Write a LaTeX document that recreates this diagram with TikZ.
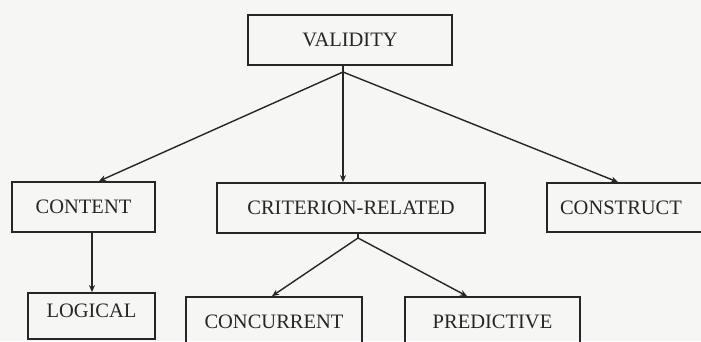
\documentclass[tikz,border=0pt]{standalone}
\usepackage{fontspec}
\setmainfont{Liberation Serif}
\usetikzlibrary{arrows.meta}
\definecolor{ink}{HTML}{262626}
\definecolor{paper}{HTML}{F6F6F4}
\tikzset{
  box/.style={draw=ink, line width=1.8pt, rectangle, inner sep=0pt, text=ink,
    font=\fontsize{20.5}{22}\selectfont},
  arr/.style={draw=ink, line width=1.4pt, -{Stealth[length=7pt,width=6pt]}}
}
\begin{document}
\begin{tikzpicture}[x=1pt,y=-1pt]
\clip (0,0) rectangle (701,341);
\fill[paper] (0,0) rectangle (701,341);
\node[box, minimum width=204, minimum height=50] (validity) at (350,40) {VALIDITY};
\node[box, minimum width=143, minimum height=50] (content) at (83.5,207) {CONTENT};
\node[box, minimum width=268, minimum height=50] (criterion) at (351,208) {CRITERION-RELATED};
\node[box, minimum width=163, minimum height=49] (construct) at (628.5,207.5) {CONSTRUCT\hspace*{15pt}};
\node[box, minimum width=127, minimum height=46, text depth=10pt] (logical) at (91.5,316) {LOGICAL};
\node[box, minimum width=176, minimum height=50] (concurrent) at (274,322) {CONCURRENT};
\node[box, minimum width=175, minimum height=50] (predictive) at (492.5,322) {PREDICTIVE};
\coordinate (vj) at (343,72);
\coordinate (cj) at (358,238);
\draw[draw=ink, line width=1.4pt] (vj) -- ([xshift=-7pt]validity.south);
\draw[arr] (vj) -- ([xshift=15.5pt]content.north);
\draw[arr] (vj) -- ([xshift=-8pt]criterion.north);
\draw[arr] (vj) -- ([xshift=-10.5pt]construct.north);
\draw[arr] ([xshift=8.5pt]content.south) -- ([xshift=0.5pt]logical.north);
\draw[draw=ink, line width=1.4pt] (cj) -- ([xshift=7pt]criterion.south);
\draw[arr] (cj) -- ([xshift=-2pt]concurrent.north);
\draw[arr] (cj) -- ([xshift=-25.5pt]predictive.north);
\end{tikzpicture}
\end{document}
